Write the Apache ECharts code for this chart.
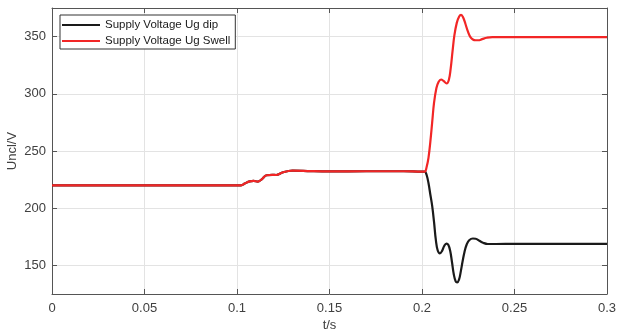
<!DOCTYPE html>
<html><head><meta charset="utf-8">
<script src="https://cdn.jsdelivr.net/npm/echarts@6/dist/echarts.min.js"></script>
<style>html,body{margin:0;padding:0;background:#fff}#c{width:617px;height:332px}</style>
</head><body><div id="c"></div>
<script>
// Time (s) and voltage (V) readings
const swellT = [0, 0.1022, 0.1042, 0.1068, 0.109, 0.1112, 0.1132, 0.116, 0.119, 0.1212, 0.1245, 0.1278, 0.13, 0.14, 0.15, 0.17, 0.19, 0.2, 0.2015, 0.2025, 0.2035, 0.2045, 0.2055, 0.2065, 0.2078, 0.209, 0.2103, 0.2118, 0.2133, 0.2145, 0.2155, 0.2165, 0.2175, 0.2188, 0.2201, 0.2211, 0.2222, 0.2235, 0.2248, 0.226, 0.2275, 0.229, 0.2305, 0.2325, 0.235, 0.238, 0.25, 0.27, 0.3];
const swellV = [220, 220, 221.5, 223.5, 223.8, 223.3, 225, 228.8, 229.2, 229, 231.2, 232.5, 232.8, 232.4, 232.2, 232.3, 232.3, 232, 232, 236, 244, 258, 275, 292, 305, 310.5, 312.5, 311, 309, 312, 322, 337, 351, 362, 367.5, 369, 367, 361, 354.5, 350, 347.5, 346.8, 346.8, 347.8, 349, 349.6, 349.6, 349.5, 349.6];
const dipT = [0, 0.1022, 0.1042, 0.1068, 0.109, 0.1112, 0.1132, 0.116, 0.119, 0.1212, 0.1245, 0.1278, 0.13, 0.14, 0.15, 0.17, 0.19, 0.2, 0.2015, 0.2025, 0.2035, 0.2045, 0.2055, 0.2065, 0.2075, 0.2085, 0.2097, 0.2108, 0.212, 0.2132, 0.2142, 0.2152, 0.2162, 0.2172, 0.2182, 0.219, 0.22, 0.221, 0.222, 0.223, 0.2242, 0.2255, 0.2275, 0.229, 0.231, 0.233, 0.2355, 0.24, 0.25, 0.3];
const dipV = [220, 220, 221.5, 223.5, 223.8, 223.3, 225, 228.8, 229.2, 229, 231.2, 232.5, 232.8, 232.4, 232.2, 232.3, 232.3, 232, 232, 229, 222, 212, 202, 188, 172, 163, 160.5, 162.5, 167, 169, 168, 163, 153, 142, 136, 135.2, 137.5, 145, 154, 162, 168.5, 172, 173.5, 173.3, 171.5, 169.8, 168.7, 168.7, 168.8, 168.8];
const seriesNames = ['Supply Voltage Ug dip', 'Supply Voltage Ug Swell'];
const yTicks = [150, 200, 250, 300, 350];
const xTicks = [0, 0.05, 0.1, 0.15, 0.2, 0.25, 0.3];

const font = 'Liberation Sans, Arial, sans-serif';
const axisCol = '#555555';
const gridCol = '#e3e3e3';
const txtCol = '#404040';
const zip = (a, b) => a.map((t, i) => [t, b[i]]);

const chart = echarts.init(document.getElementById('c'), null, {renderer: 'canvas'});
const xBase = {
  type: 'value', min: 0, max: 0.3, interval: 0.05,
  axisLine: {show: true, onZero: false, lineStyle: {color: axisCol, width: 1}},
  axisTick: {show: true, inside: true, length: 5, customValues: xTicks, lineStyle: {color: axisCol}},
  splitLine: {show: false}
};
const yBase = {
  type: 'value', min: 125, max: 375, interval: 25,
  axisLine: {show: true, onZero: false, lineStyle: {color: axisCol, width: 1}},
  axisTick: {show: true, inside: true, length: 5, customValues: yTicks, lineStyle: {color: axisCol}},
  splitLine: {show: false}
};
chart.setOption({
  animation: false,
  backgroundColor: '#ffffff',
  grid: {left: 52, right: 10, top: 8, bottom: 38, containLabel: false, outerBoundsMode: 'none'},
  legend: {
    data: seriesNames, orient: 'vertical', left: 60, top: 15,
    icon: 'rect', itemWidth: 38, itemHeight: 2, itemGap: 2,
    padding: [3, 5, 1, 2],
    borderColor: '#333333', borderWidth: 1, backgroundColor: '#ffffff',
    textStyle: {fontFamily: font, fontSize: 11.5, color: '#1a1a1a', lineHeight: 14}
  },
  xAxis: [
    Object.assign({}, xBase, {
      position: 'bottom', name: 't/s', nameLocation: 'middle', nameGap: 25, nameMoveOverlap: false,
      nameTextStyle: {fontFamily: font, fontSize: 13, color: txtCol},
      axisLabel: {show: true, margin: 8, customValues: xTicks, fontFamily: font, fontSize: 13, color: txtCol},
      splitLine: {show: true, lineStyle: {color: gridCol, width: 1}}
    }),
    Object.assign({}, xBase, {position: 'top', axisLabel: {show: false}})
  ],
  yAxis: [
    Object.assign({}, yBase, {
      position: 'left', name: 'Uncl/V', nameLocation: 'middle', nameGap: 33, nameMoveOverlap: false,
      nameTextStyle: {fontFamily: font, fontSize: 13, color: txtCol},
      axisLabel: {show: true, margin: 6, customValues: yTicks, fontFamily: font, fontSize: 13, color: txtCol},
      splitLine: {show: true, lineStyle: {color: gridCol, width: 1}}
    }),
    Object.assign({}, yBase, {position: 'right', axisLabel: {show: false}})
  ],
  series: [
    {name: seriesNames[0], type: 'line', data: zip(dipT, dipV), showSymbol: false, smooth: 0.4,
     lineStyle: {color: '#1a1a1a', width: 2.2}, itemStyle: {color: '#1a1a1a'}, z: 2},
    {name: seriesNames[1], type: 'line', data: zip(swellT, swellV), showSymbol: false, smooth: 0.4,
     lineStyle: {color: '#f22626', width: 2.2}, itemStyle: {color: '#f22626'}, z: 3}
  ]
});
</script></body></html>
